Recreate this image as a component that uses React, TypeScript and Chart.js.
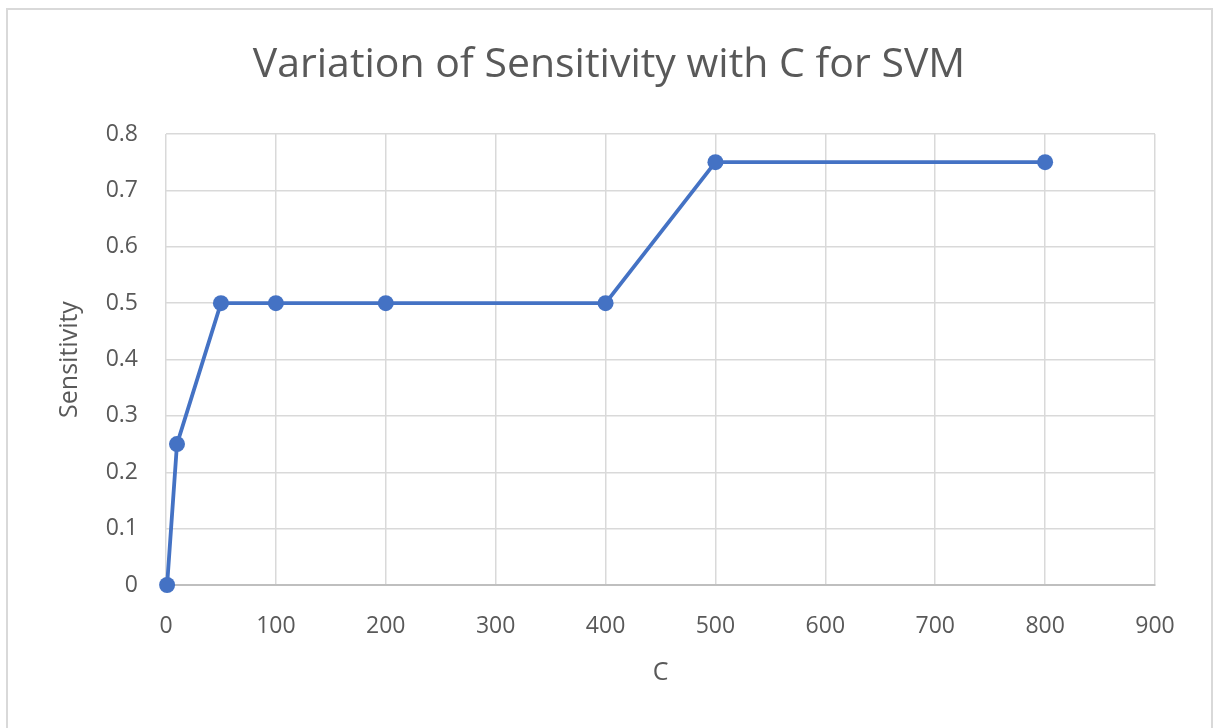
import React, { useEffect, useRef } from "react";
import { Chart, registerables } from "chart.js";

Chart.register(...registerables);

const cValues = [1, 10, 50, 100, 200, 400, 500, 800];
const sensitivity = [0, 0.25, 0.5, 0.5, 0.5, 0.5, 0.75, 0.75];
const chartTitle = "Variation of Sensitivity with C for SVM";
const xTitle = "C";
const yTitle = "Sensitivity";

const FONT = "'Open Sans', 'Noto Sans', sans-serif";
const TEXT = "#595959";
const GRID = "#d9d9d9";

const frame = {
  id: "frame",
  beforeDraw(chart: any) {
    const ctx = chart.ctx;
    ctx.save();
    ctx.fillStyle = "#ffffff";
    ctx.fillRect(0, 0, chart.width, chart.height);
    ctx.strokeStyle = "#d9d9d9";
    ctx.lineWidth = 2;
    ctx.strokeRect(7, 9, 1205, 730);
    ctx.fillStyle = TEXT;
    ctx.font = `41px ${FONT}`;
    ctx.textAlign = "center";
    ctx.textBaseline = "middle";
    ctx.fillText(chartTitle, 609, 65);
    ctx.restore();
  },
};

export default function App() {
  const ref = useRef<HTMLCanvasElement>(null);
  useEffect(() => {
    document.body.style.margin = "0";
    const chart = new Chart(ref.current!, {
      type: "line",
      data: {
        datasets: [
          {
            data: cValues.map((x, i) => ({ x, y: sensitivity[i] })),
            borderColor: "#4472C4",
            backgroundColor: "#4472C4",
            borderWidth: 3.8,
            pointRadius: 8,
            pointBorderWidth: 0,
            pointBackgroundColor: "#4472C4",
            tension: 0,
            clip: false as any,
          },
        ],
      },
      options: {
        animation: false,
        responsive: false,
        layout: { padding: { left: 0, right: 59, top: 134, bottom: 0 } },
        plugins: {
          legend: { display: false },
          tooltip: { enabled: false },
          title: { display: false },
        },
        scales: {
          x: {
            type: "linear",
            min: 0,
            max: 900,
            ticks: { stepSize: 100, color: TEXT, padding: 28, font: { family: FONT, size: 23 } },
            grid: { color: GRID, lineWidth: 1.5, drawTicks: false },
            border: { color: "#bfbfbf", width: 2 },
            title: {
              display: true,
              text: xTitle,
              color: TEXT,
              font: { family: FONT, size: 25 },
              padding: { top: 0, bottom: 40 },
            },
            afterFit(scale: any) {
              scale.height = 143;
            },
          },
          y: {
            type: "linear",
            min: 0,
            max: 0.8,
            ticks: { stepSize: 0.1, color: TEXT, padding: 28, font: { family: FONT, size: 23 } },
            grid: { color: GRID, lineWidth: 1.5, drawTicks: false },
            border: { display: false },
            title: {
              display: true,
              text: yTitle,
              color: TEXT,
              font: { family: FONT, size: 25 },
              padding: { top: 55, bottom: 0 },
            },
            afterFit(scale: any) {
              scale.width = 166;
            },
          },
        },
      },
      plugins: [frame],
    });
    return () => chart.destroy();
  }, []);
  return <canvas ref={ref} width={1214} height={728} style={{ display: "block" }} />;
}
